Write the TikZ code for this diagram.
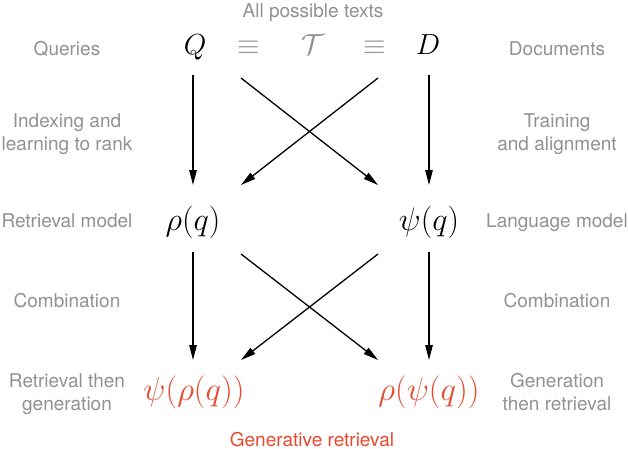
\RequirePackage{fix-cm}
\documentclass[tikz,border=0pt]{standalone}
\usepackage{fontspec}
\setmainfont{TeX Gyre Heros}
\usetikzlibrary{arrows.meta,calc}
\definecolor{lblgray}{RGB}{145,145,145}
\definecolor{genred}{RGB}{232,72,45}
\begin{document}
\begin{tikzpicture}[x=1pt,y=1pt,
  lbl/.style={text=lblgray,font=\fontsize{19}{23}\selectfont,align=center,inner sep=0pt,anchor=base},
  topm/.style={font=\fontsize{29}{34}\selectfont,inner sep=0pt,anchor=base},
  midm/.style={font=\fontsize{32.5}{38}\selectfont,inner sep=0pt,anchor=base},
  botm/.style={font=\fontsize{33}{38}\selectfont,inner sep=0pt,anchor=base,text=genred},
  arr/.style={line width=1.3pt,-{Triangle[length=15pt,width=7.5pt]}}]
\useasboundingbox (0,0) rectangle (628,-448);
% title
\node[lbl] (all) at (313,-17) {All possible texts};
% top row
\node[topm] (Q) at (195,-54) {$Q$};
\node[topm,text=lblgray] (eq1) at (249,-54) {$\equiv$};
\node[topm,text=lblgray] (T) at (313,-54) {$\mathcal{T}$};
\node[topm,text=lblgray] (eq2) at (375,-54) {$\equiv$};
\node[topm] (D) at (428,-54) {$D$};
% middle row
\node[midm] (rho) at (193,-230) {$\rho(q)$};
\node[midm] (psi) at (429,-230) {$\psi(q)$};
% bottom row
\node[botm] (psirho) at (194,-400) {$\psi(\rho(q))$};
\node[botm] (rhopsi) at (429,-400) {$\rho(\psi(q))$};
% side labels
\node[lbl] (queries) at (67,-55) {Queries};
\node[lbl] (docs) at (557,-55) {Documents};
\node[lbl] (index) at (67,-150) {Indexing and\\learning to rank};
\node[lbl] (train) at (557,-150) {Training\\and alignment};
\node[lbl] (retm) at (67,-227) {Retrieval model};
\node[lbl] (langm) at (557,-227) {Language model};
\node[lbl] (comb1) at (67,-307) {Combination};
\node[lbl] (comb2) at (557,-307) {Combination};
\node[lbl] (rtg) at (67,-410) {Retrieval then\\generation};
\node[lbl] (gtr) at (557,-410) {Generation\\then retrieval};
\node[lbl,text=genred] (gen) at (312,-446) {Generative retrieval};
% upper arrows
\draw[arr] ([xshift=-2pt,yshift=-21pt]Q.base) -- ([yshift=45pt]rho.base);
\draw[arr] ([xshift=1pt,yshift=-21pt]D.base) -- ([yshift=45pt]psi.base);
\draw[arr] ([xshift=46pt,yshift=-24pt]Q.base) -- ([xshift=-51pt,yshift=45pt]psi.base);
\draw[arr] ([xshift=-50pt,yshift=-24pt]D.base) -- ([xshift=48pt,yshift=45pt]rho.base);
% lower arrows
\draw[arr] ([yshift=-22pt]rho.base) -- ([xshift=-1pt,yshift=40pt]psirho.base);
\draw[arr] ([yshift=-22pt]psi.base) -- ([yshift=40pt]rhopsi.base);
\draw[arr] ([xshift=48pt,yshift=-24pt]rho.base) -- ([xshift=-51pt,yshift=40pt]rhopsi.base);
\draw[arr] ([xshift=-51pt,yshift=-24pt]psi.base) -- ([xshift=47pt,yshift=40pt]psirho.base);
\end{tikzpicture}
\end{document}
